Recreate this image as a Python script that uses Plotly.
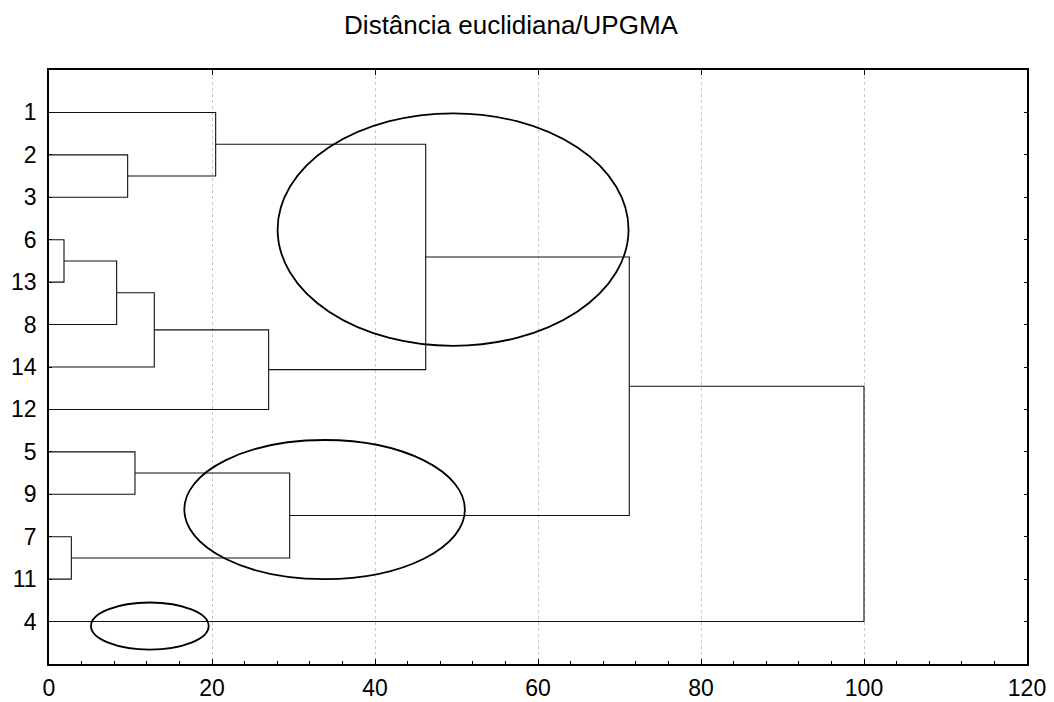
import plotly.graph_objects as go

# ---- data ----
leaf_labels = ["1", "2", "3", "6", "13", "8", "14", "12", "5", "9", "7", "11", "4"]
# merges: (left child, right child, height); children are leaf labels or merge ids "m#"
merge_left = ["2", "1", "6", "m2", "m3", "m4", "m1", "5", "7", "m7", "m6", "m10"]
merge_right = ["3", "m0", "13", "8", "14", "12", "m5", "9", "11", "m8", "m9", "4"]
merge_height = [9.65, 20.45, 1.84, 8.30, 12.92, 26.95, 46.22, 10.55, 2.74, 29.53, 71.2, 100.0]

x_ticks = [0, 20, 40, 60, 80, 100, 120]

# ellipses drawn around groups: x0, x1, y0, y1 (in axis units)
ell_x0 = [28.05, 16.6, 5.15]
ell_x1 = [71.11, 51.03, 19.59]
ell_y0 = [1.02, 8.72, 12.55]
ell_y1 = [6.50, 12.0, 13.66]

title_text = "Distância euclidiana/UPGMA"

# ---- build dendrogram coordinates ----
pos = {lab: i + 1 for i, lab in enumerate(leaf_labels)}
hgt = {lab: 0.0 for lab in leaf_labels}
xs, ys = [], []
for k, (a, b, h) in enumerate(zip(merge_left, merge_right, merge_height)):
    ya, yb = pos[a], pos[b]
    xs += [hgt[a], h, h, hgt[b], None]
    ys += [ya, ya, yb, yb, None]
    pos["m%d" % k] = (ya + yb) / 2
    hgt["m%d" % k] = h

FONT = "Liberation Sans, Arial, Helvetica, sans-serif"

# the page body has an 8px default margin, so the figure is 8px smaller
W, H = 1046, 694

fig = go.Figure()
fig.add_trace(go.Scatter(x=xs, y=ys, mode="lines",
                         line=dict(color="#111111", width=1.1),
                         hoverinfo="skip", showlegend=False))
# invisible trace for the top axis
fig.add_trace(go.Scatter(x=[0, 120], y=[0, 0], xaxis="x2", mode="markers",
                         marker=dict(opacity=0), hoverinfo="skip", showlegend=False))

for a0, a1, b0, b1 in zip(ell_x0, ell_x1, ell_y0, ell_y1):
    fig.add_shape(type="circle", xref="x", yref="y", x0=a0, x1=a1, y0=b0, y1=b1,
                  line=dict(color="black", width=1.8))

fig.update_layout(
    width=W, height=H,
    margin=dict(l=41, r=27, t=62, b=38),
    paper_bgcolor="white", plot_bgcolor="white",
    font=dict(family=FONT, size=23, color="black"),
    title=dict(text=title_text, x=503 / W, xref="container", xanchor="center",
               y=1 - 17 / H, yref="container", yanchor="middle",
               font=dict(family=FONT, size=26, color="black")),
    xaxis=dict(range=[0, 120], tickvals=x_ticks, ticktext=[str(t) for t in x_ticks],
               ticks="inside", ticklen=5, tickwidth=1, tickcolor="black",
               showline=True, linecolor="black", linewidth=1.5, mirror=True,
               showgrid=True, gridcolor="#c8c8c8", griddash="dot", gridwidth=1,
               zeroline=False, automargin=False,
               minor=dict(dtick=4, ticks="inside", ticklen=3, tickcolor="black", showgrid=False),
               tickfont=dict(size=23), ticklabelstandoff=3),
    xaxis2=dict(range=[0, 120], overlaying="x", side="top", tickvals=x_ticks,
                ticks="inside", ticklen=5, tickcolor="black", showticklabels=False,
                showgrid=False, zeroline=False, showline=False, automargin=False),
    yaxis=dict(range=[14, 0], tickvals=list(range(1, len(leaf_labels) + 1)),
               ticktext=leaf_labels, ticks="inside", ticklen=3, tickcolor="black",
               showline=True, linecolor="black", linewidth=1.5, mirror="ticks",
               showgrid=False, zeroline=False, tickfont=dict(size=23),
               ticklabelstandoff=6, automargin=False),
)

fig.write_html("out.html")
